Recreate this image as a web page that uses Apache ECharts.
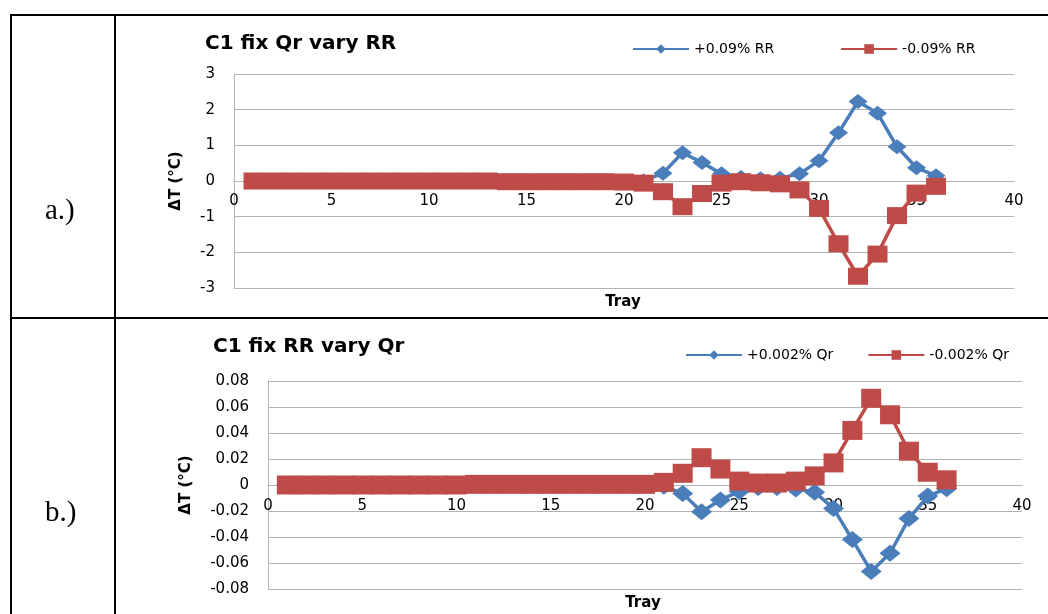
<!DOCTYPE html>
<html>
<head>
<meta charset="utf-8">
<title>C1 temperature sensitivity</title>
<script src="https://cdn.jsdelivr.net/npm/echarts@6/dist/echarts.min.js"></script>
<style>
  html, body { margin: 0; padding: 0; background: #ffffff; }
  #chart { width: 1048px; height: 614px; }
</style>
</head>
<body>
<div id="chart"></div>
<script>
// Tray numbers along the column
const trays = [1, 2, 3, 4, 5, 6, 7, 8, 9, 10, 11, 12, 13, 14, 15, 16, 17, 18,
               19, 20, 21, 22, 23, 24, 25, 26, 27, 28, 29, 30, 31, 32, 33, 34, 35, 36];

// a.) C1 with fixed Qr, reflux ratio stepped up / down (ΔT in °C)
const rrPlus = [0, 0, 0, 0, 0, 0, 0, 0, 0, 0, 0, 0, 0, 0, 0, 0, 0, 0, 0, 0, 0,
                0.22, 0.79, 0.52, 0.2, 0.1, 0.06, 0.08, 0.2, 0.57, 1.35, 2.23, 1.9, 0.96, 0.37, 0.15];
const rrMinus = [0, 0, 0, 0, 0, 0, 0, 0, 0, 0, 0, 0, 0, -0.02, -0.02, -0.02, -0.02, -0.02, -0.02, -0.03, -0.06,
                 -0.3, -0.72, -0.35, -0.06, -0.02, -0.05, -0.08, -0.25, -0.77, -1.76, -2.67, -2.05, -0.97, -0.34, -0.15];

// b.) C1 with fixed RR, reboiler duty stepped up / down (ΔT in °C)
const qrPlus = [0, 0, 0, 0, 0, 0, 0, 0, 0, 0, 0, 0, 0, 0, 0, 0, 0, 0, 0, 0, -0.001,
                -0.0065, -0.0205, -0.0115, -0.005, -0.002, -0.002, -0.003, -0.0055, -0.018, -0.042, -0.0665, -0.0525, -0.0258, -0.0085, -0.0028];
const qrMinus = [0, 0, 0, 0, 0, 0, 0, 0, 0, 0, 0.0005, 0.0005, 0.0005, 0.0005, 0.0005, 0.0005, 0.0005, 0.0005, 0.0005, 0.0005, 0.002,
                 0.009, 0.021, 0.0123, 0.003, 0.0015, 0.0015, 0.003, 0.007, 0.017, 0.042, 0.0667, 0.054, 0.026, 0.0098, 0.004];

// Series names and titles
const namesA = ['+0.09% RR', '-0.09% RR'];
const namesB = ['+0.002% Qr', '-0.002% Qr'];
const titleA = 'C1 fix Qr vary RR';
const titleB = 'C1 fix RR vary Qr';
const xTicks = { min: 0, max: 40, interval: 5 };
const yTicksA = { min: -3, max: 3, interval: 1 };
const yTicksB = { min: -0.08, max: 0.08, interval: 0.02 };

const BLUE = '#4a7ebb';
const RED = '#be4b48';
const GRID = '#b3b3b3';
const FONT = 'DejaVu Sans';

// plot boxes (px) of the two panels
const boxA = { left: 234, right: 34, top: 74, height: 214 };
const boxB = { left: 268, right: 26, top: 381, height: 208 };

const pairs = vals => trays.map((t, i) => [t, vals[i]]);

// The tray axis sits on the ΔT = 0 line: shift it up from the bottom edge
// by the distance from the bottom of the plot to zero.
function zeroShift(box, ticks) {
  return -box.height * (0 - ticks.min) / (ticks.max - ticks.min);
}

function xAxisFor(gridIndex, box, ticks, margin) {
  return {
    type: 'value', gridIndex, position: 'bottom',
    offset: zeroShift(box, ticks),
    min: xTicks.min, max: xTicks.max, interval: xTicks.interval,
    axisLine: { show: true, onZero: false, lineStyle: { color: GRID, width: 1 } },
    axisTick: { show: false },
    splitLine: { show: false },
    axisLabel: { fontFamily: FONT, fontSize: 15, color: '#000', margin }
  };
}

function yAxisFor(gridIndex, ticks, nameGap, fmt) {
  return {
    type: 'value', gridIndex,
    min: ticks.min, max: ticks.max, interval: ticks.interval,
    name: 'ΔT (°C)', nameLocation: 'middle', nameRotate: 90, nameGap,
    nameTextStyle: { fontFamily: FONT, fontSize: 15, fontWeight: 'bold', color: '#000' },
    axisLine: { show: true, onZero: false, lineStyle: { color: GRID, width: 1 } },
    axisTick: { show: false },
    splitLine: { show: true, lineStyle: { color: GRID, width: 1 } },
    axisLabel: { fontFamily: FONT, fontSize: 15, color: '#000', margin: 19, formatter: fmt }
  };
}

function lineSeries(name, vals, idx, color, symbol, size) {
  return {
    type: 'line', name, data: pairs(vals),
    xAxisIndex: idx, yAxisIndex: idx,
    symbol, symbolSize: size, showAllSymbol: true,
    lineStyle: { color, width: 3.5 },
    itemStyle: { color },
    emphasis: { disabled: true }
  };
}

const legendText = { fontFamily: FONT, fontSize: 14, color: '#000' };

const option = {
  animation: false,
  backgroundColor: '#ffffff',
  title: [
    { text: titleA, left: 205, top: 34, padding: 0,
      textStyle: { fontFamily: FONT, fontSize: 20, fontWeight: 'bold', color: '#000' } },
    { text: titleB, left: 213, top: 337, padding: 0,
      textStyle: { fontFamily: FONT, fontSize: 20, fontWeight: 'bold', color: '#000' } }
  ],
  legend: [
    { data: namesA, left: 632, top: 42, padding: 0, itemGap: 66,
      itemWidth: 56, itemHeight: 12, textStyle: legendText },
    { data: namesB, left: 685, top: 348, padding: 0, itemGap: 34,
      itemWidth: 56, itemHeight: 12, textStyle: legendText }
  ],
  grid: [boxA, boxB],
  xAxis: [xAxisFor(0, boxA, yTicksA, 13), xAxisFor(1, boxB, yTicksB, 14)],
  yAxis: [
    yAxisFor(0, yTicksA, 50, v => String(v)),
    yAxisFor(1, yTicksB, 74, v => String(Math.round(v * 100) / 100))
  ],
  series: [
    lineSeries(namesA[0], rrPlus, 0, BLUE, 'diamond', [19, 15]),
    lineSeries(namesA[1], rrMinus, 0, RED, 'rect', [20, 17]),
    lineSeries(namesB[0], qrPlus, 1, BLUE, 'diamond', [21, 17]),
    lineSeries(namesB[1], qrMinus, 1, RED, 'rect', [20, 19])
  ],
  graphic: [
    // table frame
    { type: 'line', shape: { x1: 11, y1: 15, x2: 1048, y2: 15 }, style: { stroke: '#000', lineWidth: 2 } },
    { type: 'line', shape: { x1: 11, y1: 318, x2: 1048, y2: 318 }, style: { stroke: '#000', lineWidth: 2 } },
    { type: 'line', shape: { x1: 11, y1: 14, x2: 11, y2: 614 }, style: { stroke: '#000', lineWidth: 2 } },
    { type: 'line', shape: { x1: 115, y1: 14, x2: 115, y2: 614 }, style: { stroke: '#000', lineWidth: 2 } },
    // row labels
    { type: 'text', left: 45, top: 197,
      style: { text: 'a.)', fontFamily: 'Liberation Serif', fontSize: 29, fill: '#000' } },
    { type: 'text', left: 45, top: 499,
      style: { text: 'b.)', fontFamily: 'Liberation Serif', fontSize: 29, fill: '#000' } },
    // x axis titles
    { type: 'text', x: 623, y: 302,
      style: { text: 'Tray', fontFamily: FONT, fontSize: 15, fontWeight: 'bold', fill: '#000',
               textAlign: 'center', textVerticalAlign: 'middle' } },
    { type: 'text', x: 643, y: 603,
      style: { text: 'Tray', fontFamily: FONT, fontSize: 15, fontWeight: 'bold', fill: '#000',
               textAlign: 'center', textVerticalAlign: 'middle' } }
  ]
};

const chart = echarts.init(document.getElementById('chart'), null, { renderer: 'canvas' });
chart.setOption(option);
</script>
</body>
</html>
